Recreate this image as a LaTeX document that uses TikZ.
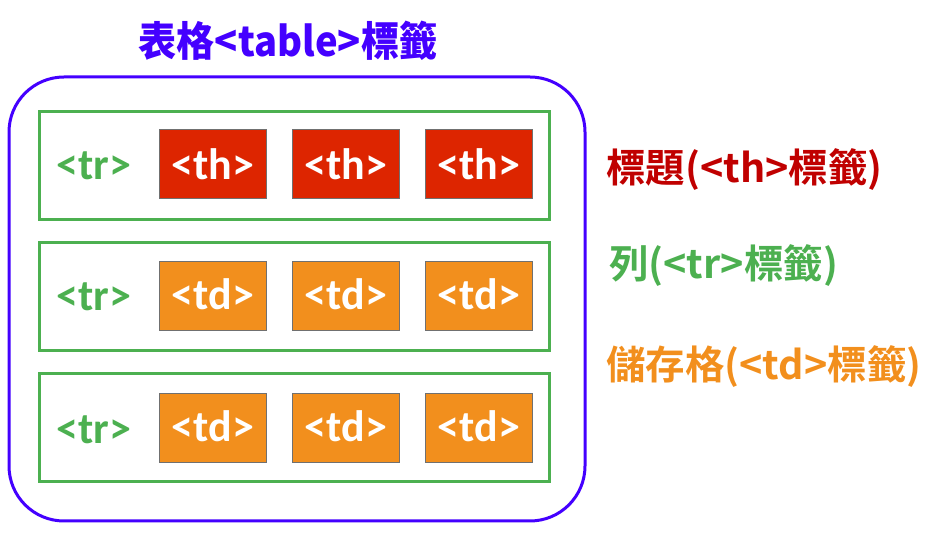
\documentclass[tikz,border=0pt]{standalone}
\usepackage{fontspec}
\newfontfamily\cjkb{Noto Sans CJK TC Bold}
\newfontfamily\cjkblack{Noto Sans CJK TC Black}
\newfontfamily\cellfont{Carlito}
\definecolor{tblue}{HTML}{4400FF}
\definecolor{tgreen}{HTML}{4CB050}
\definecolor{thred}{HTML}{DD2500}
\definecolor{tdorange}{HTML}{F28F1D}
\definecolor{labred}{HTML}{C00000}
\definecolor{cellborder}{HTML}{707070}
\begin{document}
\begin{tikzpicture}[x=1pt,y=-1pt,
  tablebox/.style={draw=tblue,line width=3pt,rounded corners=55pt,minimum width=576pt,minimum height=444pt},
  rowbox/.style={draw=tgreen,line width=3pt,minimum width=510pt,minimum height=108pt},
  cellbox/.style={draw=cellborder,line width=0.8pt,minimum width=107pt,minimum height=69pt,inner sep=0pt,text=white,font=\cellfont\bfseries\fontsize{44}{44}\selectfont},
  thcell/.style={cellbox,fill=thred},
  tdcell/.style={cellbox,fill=tdorange},
  trtext/.style={text=tgreen,font=\cellfont\bfseries\fontsize{44}{44}\selectfont,inner sep=0pt},
  legend/.style={anchor=west,inner sep=0pt,font=\cjkb\fontsize{39.5}{40}\selectfont}
]
\useasboundingbox (0,0) rectangle (930,534);
\node[tablebox] (table) at (297,299) {};
\node[text=tblue,font=\cjkblack\fontsize{41}{41}\selectfont,inner sep=0pt] (title) at (288,41) {\scalebox{0.93}[1]{表格<table>標籤}};

\node[rowbox] (r1) at (294,166) {};
\node[rowbox] (r2) at (294,297) {};
\node[rowbox] (r3) at (294,428) {};

\node[trtext] (tr1) at (94,166) {<tr>};
\node[trtext] (tr2) at (94,297) {<tr>};
\node[trtext] (tr3) at (94,430) {<tr>};

\node[thcell] (th1) at (213,164) {<th>};
\node[thcell] (th2) at (346,164) {<th>};
\node[thcell] (th3) at (479,164) {<th>};

\node[tdcell] (td1) at (213,296) {\raisebox{4pt}{<td>}};
\node[tdcell] (td2) at (346,296) {\raisebox{4pt}{<td>}};
\node[tdcell] (td3) at (479,296) {\raisebox{4pt}{<td>}};

\node[tdcell] (td4) at (213,428) {\raisebox{4pt}{<td>}};
\node[tdcell] (td5) at (346,428) {\raisebox{4pt}{<td>}};
\node[tdcell] (td6) at (479,428) {\raisebox{4pt}{<td>}};

\node[legend,text=labred] (lth) at (606,170) {標題(<th>標籤)};
\node[legend,text=tgreen] (ltr) at (609,266) {列(<tr>標籤)};
\node[legend,text=tdorange] (ltd) at (606,367) {儲存格(<td>標籤)};
\end{tikzpicture}
\end{document}
